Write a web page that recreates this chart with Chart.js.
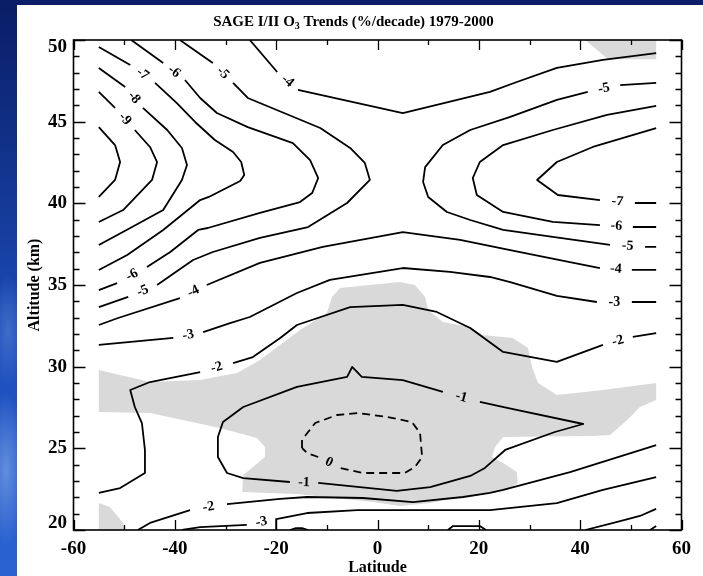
<!DOCTYPE html>
<html>
<head>
<meta charset="utf-8">
<script src="https://cdn.jsdelivr.net/npm/chart.js@4.4.1/dist/chart.umd.min.js"></script>
<style>
  html, body { margin: 0; padding: 0; }
  body {
    width: 703px; height: 576px; overflow: hidden; position: relative;
    background:
      radial-gradient(ellipse 30px 110px at 6px 470px, rgba(150,185,240,0.55), rgba(150,185,240,0) 70%),
      radial-gradient(ellipse 25px 80px at 8px 330px, rgba(130,170,235,0.35), rgba(130,170,235,0) 70%),
      linear-gradient(180deg, #0a1d66 0%, #12358f 30%, #1d4fbd 62%, #2a63d2 100%);
  }
  #panel { position: absolute; left: 17px; top: 5px; right: 0; bottom: 0; background: #fff; }
  #wrap { position: absolute; left: 0; top: 0; width: 703px; height: 576px; }
</style>
</head>
<body>
<div id="panel"></div>
<div id="wrap"><canvas id="chart" width="703" height="576"></canvas></div>
<script>
// Axis ticks
const latitudeTicks = [-60, -40, -20, 0, 20, 40, 60];
const altitudeTicks = [20, 25, 30, 35, 40, 45, 50];

// Contour paths as [latitude, altitude km]; a null marks the gap where the level label sits.
const trendM10 = [[-55,44.67],[-51.8,43.57],[-50.8,42.53],[-51.8,41.43],[-55,40.39]];
const trendM9 = [[-55,46.82],[-51.8,45.84],null,[-47.9,44.49],[-44.9,43.45],[-43.5,42.53],[-44.5,41.43],[-50.2,39.59],[-55,38.86]];
const trendM8 = [[-55,48.29],[-49.8,47.12],null,[-46.3,45.84],[-41.5,44.49],[-38.6,43.39],[-37.6,42.35],[-38.6,41.43],[-42.3,39.59],[-48.8,38.49],[-55,37.45]];
const trendM7West = [[-55,49.57],[-48.8,48.47],null,[-43.9,47.37],[-39.6,46.14],[-36.0,44.98],[-32.1,43.88],[-28.5,43.14],[-26.9,42.53],[-26.3,41.73],[-27.1,41.37],[-33.3,40.39],[-35.0,40.2],[-42.3,38.37],[-49.4,36.84],[-55,35.92]];
const trendM7East = [[55,44.61],[42.5,43.45],[35.4,42.53],[31.5,41.43],[35.6,40.51],[43.9,40.2],null,[50.8,40.02],[55,40.02]];
const trendM6West = [[-48.6,50],[-42.3,48.59],null,[-38.0,47.55],[-35.0,46.45],[-31.7,45.53],[-25.6,44.67],[-16.7,43.69],[-13.3,42.65],[-11.7,41.55],[-12.9,40.63],[-15.3,40.08],[-23.2,39.41],[-33.5,38.49],[-35.4,38.37],[-40.9,37.02],[-45.5,36.1],null,[-51.4,35.12],[-55,34.69]];
const trendM6East = [[55,45.96],[45.3,45.41],[34.6,44.49],[24.8,43.57],[20.2,42.53],[18.8,41.55],[19.6,40.51],[24.8,39.47],[34.6,38.86],[43.9,38.67],null,[50.4,38.55],[55,38.55]];
const trendM5West = [[-39.0,50],[-32.5,48.59],null,[-28.5,47.37],[-25.6,46.45],[-11.3,44.61],[-5.4,43.39],[-2.5,42.47],[-1.5,41.43],[-6.0,40.02],[-13.7,38.55],[-23.2,37.88],[-32.5,37.02],[-36.4,36.53],[-43.5,35.0],null,[-49.2,34.27],[-55,33.65]];
const trendM5East = [[55,47.37],[47.9,47.24],null,[41.5,46.82],[35.4,46.33],[26.2,45.29],[18.3,44.49],[12.9,43.57],[9.4,42.22],[9.0,41.31],[10.0,40.39],[13.7,39.47],[18.3,38.98],[24.8,38.37],[36.0,37.88],[45.9,37.45],null,[52.8,37.33],[55,37.33]];
const trendM5Floor = [[53.8,20.0],[55,20.24]];
const trendM4Upper = [[-25.2,50],[-19.8,48.04],null,[-15.7,46.94],[5.0,45.53],[22.2,46.82],[27.5,47.43],[35.4,48.29],[44.5,48.78],[55,49.2]];
const trendM4Lower = [[-55,32.55],[-51.2,32.98],[-39.0,34.2],null,[-33.7,35.0],[-23.2,36.35],[-10.8,37.33],[5.0,38.24],[16.3,37.76],[26.2,37.14],[36.0,36.53],[43.9,36.04],null,[50.2,35.92],[55,35.92]];
const trendM4FloorA = [[-17.3,20.0],[-16.1,20.12],[-14.9,20.12],[-13.7,20.0]];
const trendM4FloorB = [[13.9,20.0],[14.9,20.24],[20.2,20.24],[21.4,20.0]];
const trendM4FloorC = [[41.0,20.0],[47.9,20.55],[51.8,20.86],[55,21.29]];
const trendM3Upper = [[-55,31.33],[-40.3,31.76],null,[-34.4,32.12],[-29.1,32.67],[-25.2,33.04],[-15.9,34.51],[-9.4,35.31],[5.0,36.04],[14.3,35.8],[22.2,35.49],[26.2,35.18],[35.4,34.33],[43.3,33.96],null,[50.2,33.96],[55,33.96]];
const trendM3Lower = [[-38.6,20.0],[-35.0,20.18],[-25.8,20.31],null,[-20.0,20.67],[-20.0,20.06],[-20.0,20.67],[-13.9,21.04],[-4.0,21.22],[8.4,21.22],[22.2,21.22],[35.4,21.65],[44.5,22.45],[55,23.24]];
const trendM2Upper = [[-55,22.27],[-50.8,22.57],[-45.9,23.49],[-45.9,24.9],[-46.5,26.55],[-47.9,27.53],[-48.8,28.57],[-44.9,29.06],[-35.0,29.67],null,[-28.5,30.22],[-24.6,30.59],[-19.2,31.76],[-15.9,32.55],[-5.4,33.65],[5.0,33.78],[11.7,33.35],[18.3,32.37],[24.8,30.9],[35.4,30.29],[44.5,31.33],null,[50.4,31.82],[55,32.06]];
const trendM2Lower = [[-47.3,20.0],[-44.9,20.43],[-37.0,21.22],null,[-29.7,21.59],[-19.2,21.9],[-13.9,22.02],[-2.9,21.96],[7.0,21.71],[16.9,22.02],[22.2,22.27],[24.8,22.45],[38.0,23.55],[55,25.2]];
const trendM1 = [[20.2,27.84],[25.6,27.47],[40.6,26.49],[35.0,26.0],[25.2,24.9],[21.2,23.8],[18.3,23.31],[10.4,22.63],[3.8,22.39],[-11.7,22.88],null,[-17.3,22.94],[-26.5,23.18],[-29.7,23.49],[-31.5,24.47],[-31.5,25.69],[-30.5,26.61],[-26.5,27.53],[-15.9,28.76],[-6.0,29.37],[-5.0,29.98],[-3.1,29.37],[5.0,29.18],[12.9,28.45],null,[20.2,27.84]];
const trendZero = [[-14.9,25.02],[-14.9,25.51],[-13.7,26.0],[-12.3,26.55],[-8.0,27.04],[-3.8,27.16],[1.9,26.92],[6.8,26.61],[8.4,25.94],[8.8,24.47],[7.4,23.86],[5.4,23.49],[-2.9,23.49],[-7.4,23.8],null,[-11.7,24.47],[-13.9,24.71],[-14.9,25.02]];

// Regions where the trend is not significant (shaded)
const shadeNorthTop = [[41.0,50],[55,50],[55,48.82],[45.5,48.82],[41.0,50]];
const shadeSouthFloor = [[-55,21.65],[-52.8,21.41],[-50.2,20.43],[-49.8,20.0],[-55,20.0],[-55,21.65]];
const shadeMiddle = [[-55,29.8],[-44.9,29.06],[-35.0,29.18],[-27.7,29.61],[-23.2,30.41],[-15.3,32.24],[-10.0,33.29],[-9.0,34.27],[-7.4,34.82],[4.4,35.18],[7.4,35.0],[9.4,34.27],[10.0,33.47],[12.9,32.73],[18.3,32.43],[20.8,31.94],[26.7,31.76],[29.7,31.14],[30.5,29.98],[31.7,29.0],[35.4,28.27],[44.5,28.57],[55,29.0],[55,27.96],[51.8,27.53],[49.3,26.73],[45.9,25.82],[42.5,25.76],[24.8,25.69],[23.2,25.08],[22.6,24.47],[24.8,24.1],[27.5,23.55],[27.7,22.88],[25.6,22.45],[18.3,22.14],[10.4,21.65],[4.4,21.47],[-0.9,21.71],[-15.9,22.2],[-26.7,22.33],[-26.5,23.37],[-24.8,23.8],[-22.2,24.47],[-22.2,25.08],[-23.8,25.63],[-31.1,26.24],[-44.9,27.16],[-55,27.22],[-55,29.8]];

const contourSets = [
  { level: -10, paths: [trendM10] },
  { level: -9, paths: [trendM9] },
  { level: -8, paths: [trendM8] },
  { level: -7, paths: [trendM7West, trendM7East] },
  { level: -6, paths: [trendM6West, trendM6East] },
  { level: -5, paths: [trendM5West, trendM5East, trendM5Floor] },
  { level: -4, paths: [trendM4Upper, trendM4Lower, trendM4FloorA, trendM4FloorB, trendM4FloorC] },
  { level: -3, paths: [trendM3Upper, trendM3Lower] },
  { level: -2, paths: [trendM2Upper, trendM2Lower] },
  { level: -1, paths: [trendM1] },
  { level: 0, paths: [trendZero] }
];
const shadeRegions = [shadeNorthTop, shadeSouthFloor, shadeMiddle];

const SERIF = '"Liberation Serif", "Times New Roman", Times, serif';
const toPoints = arr => arr.map(([x, y]) => ({ x, y }));

const datasets = [];
shadeRegions.forEach(poly => {
  datasets.push({
    data: toPoints(poly), showLine: true, fill: 'shape',
    backgroundColor: '#d9d9d9', borderColor: 'rgba(0,0,0,0)', borderWidth: 0,
    pointRadius: 0, order: 1
  });
});
contourSets.forEach(set => {
  set.paths.forEach(path => {
    let piece = [];
    const flush = () => {
      if (piece.length > 1) {
        datasets.push({
          data: toPoints(piece), showLine: true, fill: false,
          borderColor: '#000', borderWidth: 1.8,
          borderDash: set.level >= 0 ? [8, 5] : [],
          borderCapStyle: 'butt', borderJoinStyle: 'round',
          pointRadius: 0, order: 0, tension: 0
        });
      }
      piece = [];
    };
    path.forEach(p => { if (p === null) flush(); else piece.push(p); });
    flush();
  });
});

// Level labels written into the gaps of the contour lines
const contourLabels = {
  id: 'contourLabels',
  afterDatasetsDraw(chart) {
    const { ctx, scales: { x, y } } = chart;
    ctx.save();
    ctx.font = 'bold 14px ' + SERIF;
    ctx.fillStyle = '#000';
    ctx.textAlign = 'center';
    ctx.textBaseline = 'middle';
    contourSets.forEach(set => set.paths.forEach(path => {
      path.forEach((p, i) => {
        if (p !== null) return;
        const a = path[i - 1], b = path[i + 1];
        const ax = x.getPixelForValue(a[0]), ay = y.getPixelForValue(a[1]);
        const bx = x.getPixelForValue(b[0]), by = y.getPixelForValue(b[1]);
        let ang = Math.atan2(by - ay, bx - ax);
        if (ang > Math.PI / 2) ang -= Math.PI;
        if (ang < -Math.PI / 2) ang += Math.PI;
        ctx.save();
        ctx.translate((ax + bx) / 2, (ay + by) / 2);
        ctx.rotate(ang);
        ctx.fillText(String(set.level), 0, 0);
        ctx.restore();
      });
    }));
    ctx.restore();
  }
};

// Plot frame with inward major/minor tick marks on all four sides
const frameTicks = {
  id: 'frameTicks',
  afterDatasetsDraw(chart) {
    const { ctx, chartArea: a, scales: { x, y } } = chart;
    ctx.save();
    ctx.strokeStyle = '#000';
    ctx.lineWidth = 1.3;
    ctx.beginPath();
    for (let v = x.min; v <= x.max; v += 10) {
      const px = Math.round(x.getPixelForValue(v)) + 0.5;
      const len = v % 20 === 0 ? 10 : 5;
      ctx.moveTo(px, a.bottom); ctx.lineTo(px, a.bottom - len);
      ctx.moveTo(px, a.top); ctx.lineTo(px, a.top + len);
    }
    for (let v = y.min; v <= y.max; v += 1) {
      const py = Math.round(y.getPixelForValue(v)) + 0.5;
      const len = v % 5 === 0 ? 12 : 6;
      ctx.moveTo(a.left, py); ctx.lineTo(a.left + len, py);
      ctx.moveTo(a.right, py); ctx.lineTo(a.right - len, py);
    }
    ctx.stroke();
    ctx.lineWidth = 1.6;
    ctx.strokeRect(a.left, a.top, a.right - a.left, a.bottom - a.top);
    ctx.restore();
  }
};

// Title and axis names
const captions = {
  id: 'captions',
  afterDraw(chart) {
    const { ctx, chartArea: a } = chart;
    ctx.save();
    ctx.fillStyle = '#000';
    ctx.textBaseline = 'alphabetic';
    ctx.textAlign = 'left';
    const mainFont = 'bold 15px ' + SERIF, subFont = 'bold 10px ' + SERIF;
    const t1 = 'SAGE I/II O', t2 = '3', t3 = ' Trends (%/decade) 1979-2000';
    ctx.font = mainFont; const w1 = ctx.measureText(t1).width, w3 = ctx.measureText(t3).width;
    ctx.font = subFont; const w2 = ctx.measureText(t2).width;
    let tx = chart.width / 2 + 2 - (w1 + w2 + w3) / 2;
    const base = 26;
    ctx.font = mainFont; ctx.fillText(t1, tx, base); tx += w1;
    ctx.font = subFont; ctx.fillText(t2, tx, base + 3); tx += w2;
    ctx.font = mainFont; ctx.fillText(t3, tx, base);

    ctx.font = 'bold 16px ' + SERIF;
    ctx.textAlign = 'center';
    ctx.textBaseline = 'middle';
    ctx.fillText('Latitude', (a.left + a.right) / 2, 568);
    ctx.translate(35, (a.top + a.bottom) / 2);
    ctx.rotate(-Math.PI / 2);
    ctx.fillText('Altitude (km)', 0, 0);
    ctx.restore();
  }
};

new Chart(document.getElementById('chart'), {
  type: 'scatter',
  data: { datasets },
  plugins: [contourLabels, frameTicks, captions],
  options: {
    responsive: false,
    animation: false,
    events: [],
    layout: { padding: { top: 40, right: 21.5, left: 0, bottom: 0 } },
    plugins: { legend: { display: false }, tooltip: { enabled: false }, title: { display: false } },
    scales: {
      x: {
        type: 'linear', min: -60, max: 60,
        afterBuildTicks: s => { s.ticks = latitudeTicks.map(v => ({ value: v })); },
        afterFit: s => { s.height = 46; },
        grid: { display: false, drawTicks: false },
        border: { display: false },
        ticks: {
          color: '#000', padding: 8, maxRotation: 0, autoSkip: false,
          font: { family: SERIF, size: 19, weight: 'bold', lineHeight: 1.2 },
          callback: v => String(v)
        }
      },
      y: {
        type: 'linear', min: 20, max: 50,
        afterBuildTicks: s => { s.ticks = altitudeTicks.map(v => ({ value: v })); },
        afterFit: s => { s.width = 73.5; },
        grid: { display: false, drawTicks: false },
        border: { display: false },
        ticks: {
          color: '#000', padding: 6.5, autoSkip: false,
          font: { family: SERIF, size: 19, weight: 'bold', lineHeight: '13.4px' },
          callback: v => v === 50 ? ['', String(v)] : v === 20 ? [String(v), ''] : String(v)
        }
      }
    }
  }
});
</script>
</body>
</html>
